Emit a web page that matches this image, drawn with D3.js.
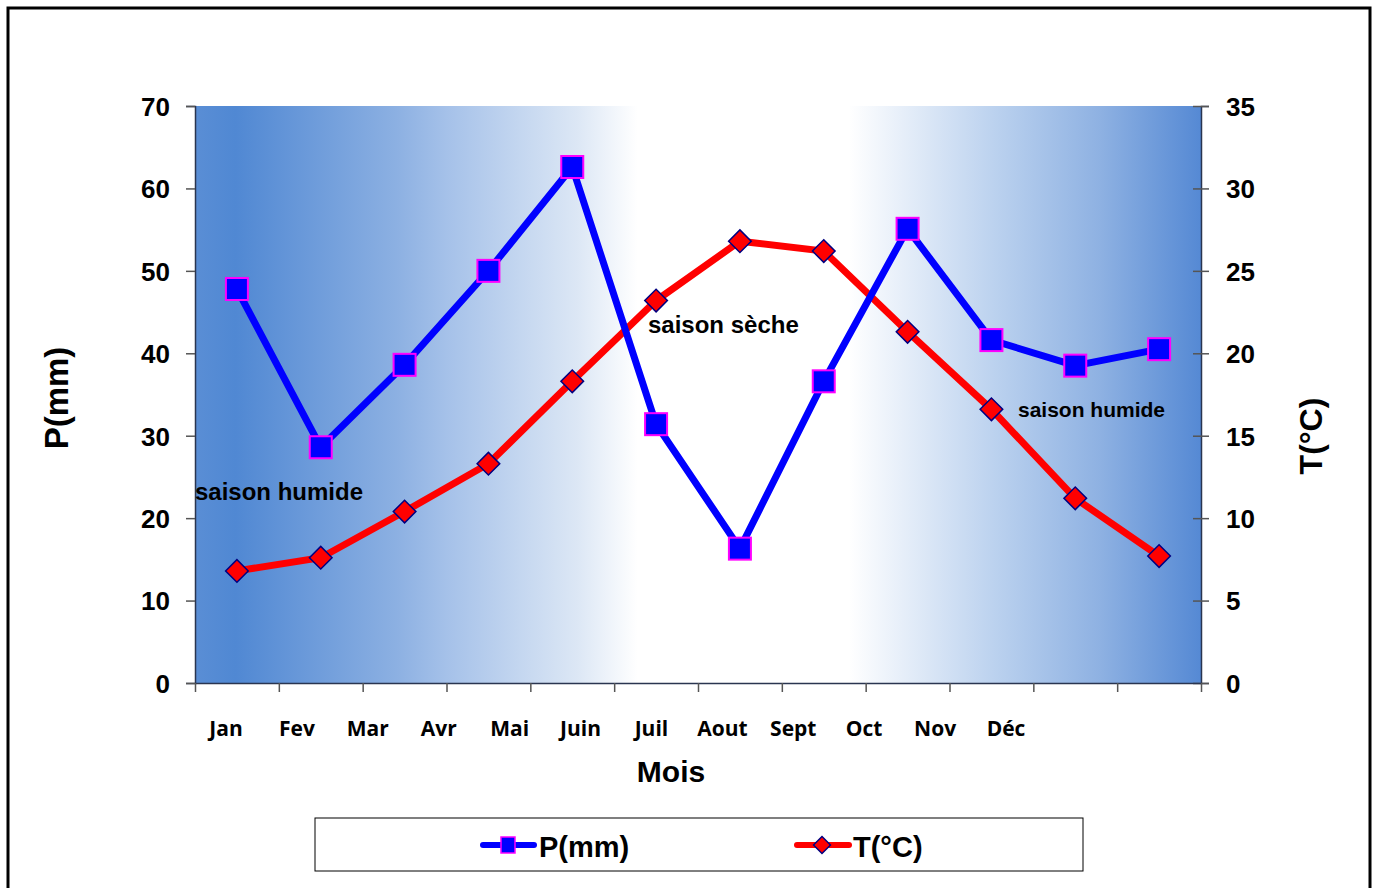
<!DOCTYPE html>
<html>
<head>
<meta charset="utf-8">
<script src="https://cdn.jsdelivr.net/npm/d3@7"></script>
<style>
  html, body { margin: 0; padding: 0; background: #fff; }
  svg { display: block; font-family: "Liberation Sans", Arial, sans-serif; }
</style>
</head>
<body>
<svg id="chart" width="1376" height="888"></svg>
<script>
// données
const months = ['Jan', 'Fev', 'Mar', 'Avr', 'Mai', 'Juin', 'Juil', 'Aout', 'Sept', 'Oct', 'Nov', 'Déc'];
const precip = [47.8, 28.6, 38.6, 50.0, 62.6, 31.4, 16.3, 36.6, 55.1, 41.6, 38.5, 40.5];
const temp = [6.8, 7.6, 10.4, 13.3, 18.3, 23.2, 26.8, 26.2, 21.3, 16.6, 11.2, 7.7];
const pTicks = [0, 10, 20, 30, 40, 50, 60, 70];
const tTicks = [0, 5, 10, 15, 20, 25, 30, 35];

const svg = d3.select('#chart');
const plot = {left: 195, right: 1201, top: 106, bottom: 683};

// cadre extérieur
svg.append('rect')
  .attr('x', 8).attr('y', 8)
  .attr('width', 1362).attr('height', 900)
  .attr('fill', 'none')
  .attr('stroke', '#000')
  .attr('stroke-width', 3);

// dégradé du fond
const defs = svg.append('defs');
const grad = defs.append('linearGradient')
  .attr('id', 'bg')
  .attr('x1', '0%').attr('x2', '100%')
  .attr('y1', '0%').attr('y2', '0%');
[
  [0, '#5a8ed5'], [0.04, '#5088d3'], [0.2, '#8cb0e2'], [0.25, '#a5c1e9'],
  [0.38, '#dce7f5'], [0.44, '#ffffff'], [0.65, '#ffffff'], [0.8, '#b9d0ee'],
  [0.9, '#8eb1e2'], [1, '#5589d4']
].forEach(s => grad.append('stop').attr('offset', s[0]).attr('stop-color', s[1]));

svg.append('rect')
  .attr('x', plot.left).attr('y', plot.top)
  .attr('width', plot.right - plot.left)
  .attr('height', plot.bottom - plot.top)
  .attr('fill', 'url(#bg)');

const x = d3.scaleBand().domain(months).range([plot.left, plot.right]);
const yP = d3.scaleLinear().domain([0, 70]).range([plot.bottom, plot.top]);
const yT = d3.scaleLinear().domain([0, 35]).range([plot.bottom, plot.top]);
// étiquettes des mois (placées à part dans l'original)
const xLab = d3.scalePoint().domain(months).range([226, 1006]);

// axe gauche
const axL = svg.append('g')
  .attr('transform', `translate(${plot.left},0)`)
  .call(d3.axisLeft(yP).tickValues(pTicks).tickSize(9).tickPadding(16));
// axe droit
const axR = svg.append('g')
  .attr('transform', `translate(${plot.right},0)`)
  .call(d3.axisRight(yT).tickValues(tTicks).tickSize(8).tickPadding(17));
axR.selectAll('.tick line').attr('x1', -8);
// axe bas : graduations aux limites des mois
const xEdges = months.map(m => x(m)).concat([plot.right]);
const xPix = d3.scaleLinear().domain([plot.left, plot.right]).range([plot.left, plot.right]);
const axB = svg.append('g')
  .attr('transform', `translate(0,${plot.bottom})`)
  .call(d3.axisBottom(xPix).tickValues(xEdges).tickSize(9).tickSizeOuter(0).tickFormat(''));

[axL, axR, axB].forEach(g => {
  g.select('.domain').attr('stroke', '#2a3550').attr('stroke-width', 1.5);
  g.selectAll('.tick line').attr('stroke', '#555').attr('stroke-width', 1.5);
  g.selectAll('.tick text')
    .attr('font-family', '"Liberation Sans", Arial, sans-serif')
    .attr('font-size', 26)
    .attr('font-weight', 'bold')
    .attr('fill', '#000');
});
axL.selectAll('.tick text').attr('dy', '0.36em');
axR.selectAll('.tick text').attr('dy', '0.36em');

svg.append('g')
  .selectAll('text')
  .data(months)
  .join('text')
  .attr('x', d => xLab(d))
  .attr('y', 736)
  .attr('text-anchor', 'middle')
  .attr('font-family', '"Open Sans", sans-serif')
  .attr('font-weight', 'bold')
  .attr('font-size', 21)
  .text(d => d);

// titres des axes
svg.append('text')
  .attr('transform', 'translate(68,398) rotate(-90)')
  .attr('text-anchor', 'middle')
  .attr('font-size', 33).attr('font-weight', 'bold')
  .text('P(mm)');
svg.append('text')
  .attr('transform', 'translate(1322,436) rotate(-90)')
  .attr('text-anchor', 'middle')
  .attr('font-size', 32).attr('font-weight', 'bold')
  .text('T(°C)');
svg.append('text')
  .attr('x', 671).attr('y', 782)
  .attr('text-anchor', 'middle')
  .attr('font-size', 30).attr('font-weight', 'bold')
  .text('Mois');

// courbes
const cx = (d, i) => x(months[i]) + x.bandwidth() / 2;
const lineP = d3.line().x(cx).y(d => yP(d));
const lineT = d3.line().x(cx).y(d => yT(d));

svg.append('path')
  .datum(temp)
  .attr('d', lineT)
  .attr('fill', 'none')
  .attr('stroke', '#ff0000')
  .attr('stroke-width', 7);
svg.append('g')
  .selectAll('rect')
  .data(temp)
  .join('rect')
  .attr('x', -8).attr('y', -8)
  .attr('width', 16).attr('height', 16)
  .attr('transform', (d, i) => `translate(${cx(d, i)},${yT(d)}) rotate(45)`)
  .attr('fill', '#ff0000')
  .attr('stroke', '#000080')
  .attr('stroke-width', 1.5);

svg.append('path')
  .datum(precip)
  .attr('d', lineP)
  .attr('fill', 'none')
  .attr('stroke', '#0000ff')
  .attr('stroke-width', 7);
svg.append('g')
  .selectAll('rect')
  .data(precip)
  .join('rect')
  .attr('x', (d, i) => cx(d, i) - 11)
  .attr('y', d => yP(d) - 11)
  .attr('width', 22).attr('height', 22)
  .attr('fill', '#0000ff')
  .attr('stroke', '#ff00ff')
  .attr('stroke-width', 2);

// annotations
svg.append('text')
  .attr('x', 648).attr('y', 333)
  .attr('font-size', 24).attr('font-weight', 'bold')
  .text('saison sèche');
svg.append('text')
  .attr('x', 195).attr('y', 500)
  .attr('font-size', 24).attr('font-weight', 'bold')
  .text('saison humide');
svg.append('text')
  .attr('x', 1018).attr('y', 417)
  .attr('font-size', 21).attr('font-weight', 'bold')
  .text('saison humide');

// légende
const leg = svg.append('g');
leg.append('rect')
  .attr('x', 315).attr('y', 818)
  .attr('width', 768).attr('height', 53)
  .attr('fill', '#fff')
  .attr('stroke', '#000')
  .attr('stroke-width', 1);
leg.append('line')
  .attr('x1', 483).attr('x2', 534).attr('y1', 845).attr('y2', 845)
  .attr('stroke', '#0000ff').attr('stroke-width', 6).attr('stroke-linecap', 'round');
leg.append('rect')
  .attr('x', 501).attr('y', 837).attr('width', 14).attr('height', 16)
  .attr('fill', '#0000ff').attr('stroke', '#ff00ff').attr('stroke-width', 1.5);
leg.append('text')
  .attr('x', 539).attr('y', 857)
  .attr('font-size', 29).attr('font-weight', 'bold')
  .text('P(mm)');
leg.append('line')
  .attr('x1', 797).attr('x2', 849).attr('y1', 845).attr('y2', 845)
  .attr('stroke', '#ff0000').attr('stroke-width', 6).attr('stroke-linecap', 'round');
leg.append('rect')
  .attr('x', -6).attr('y', -6).attr('width', 12).attr('height', 12)
  .attr('transform', 'translate(822,845) rotate(45)')
  .attr('fill', '#ff0000').attr('stroke', '#000080').attr('stroke-width', 1.5);
leg.append('text')
  .attr('x', 853).attr('y', 857)
  .attr('font-size', 29).attr('font-weight', 'bold')
  .text('T(°C)');
</script>
</body>
</html>
